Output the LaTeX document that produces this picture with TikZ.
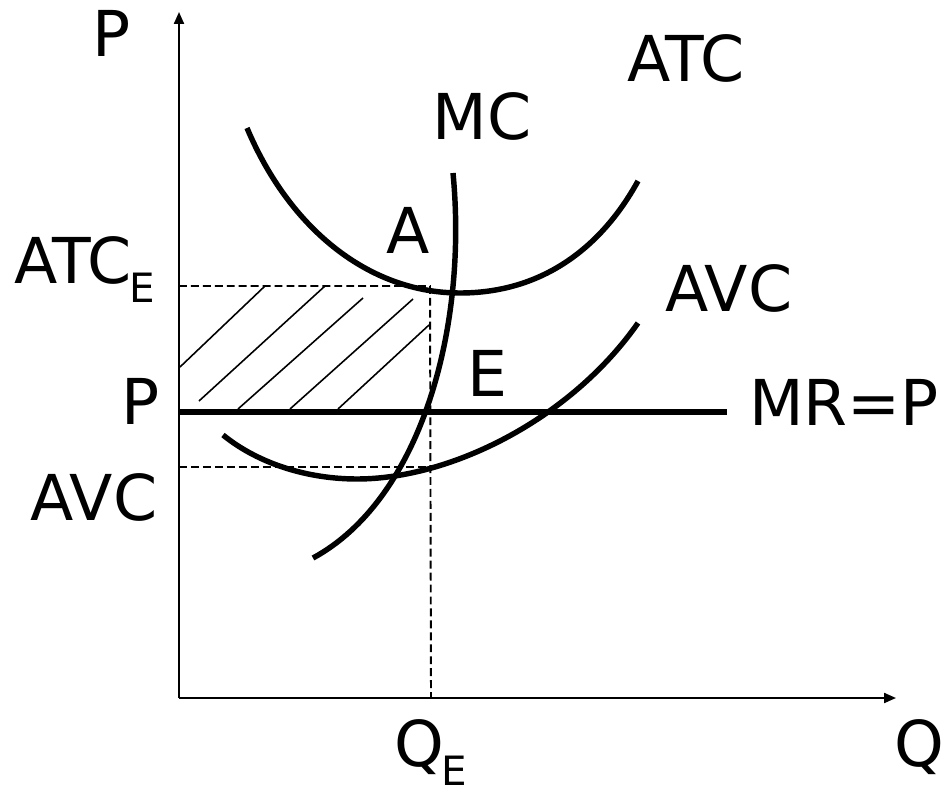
\documentclass[tikz,border=0pt]{standalone}
\usepackage{fontspec}
\setmainfont{DejaVu Sans}
\usetikzlibrary{arrows.meta}
\newcommand{\lowE}{\kern-1.5pt\raisebox{-11pt}{\fontsize{23}{28}\selectfont E}}
\tikzset{
  lbl/.style={inner sep=0pt, font=\fontsize{36}{43}\selectfont},
  curve/.style={line width=3.1pt},
  guide/.style={line width=1.1pt, dash pattern=on 4.5pt off 2.3pt},
  hatch/.style={line width=0.9pt},
  axis/.style={line width=1.1pt, -{Triangle[length=6.8pt,width=5.7pt]}}
}
\begin{document}
\begin{tikzpicture}[x=0.02cm,y=-0.02cm]
        \useasboundingbox (0,0) rectangle (947,794);
        \coordinate (o) at (179,698);
        \coordinate (ytop) at (179,12);
        \coordinate (xend) at (896,698);
        \coordinate (atcE) at (179,286);
        \coordinate (cA) at (430,286);
        \coordinate (cQ) at (431,698);
        \coordinate (avcE) at (179,467);
        \coordinate (cV) at (430,467);
        \coordinate (pE) at (179,412);
        \coordinate (mrEnd) at (727,412);
        \draw [hatch] (180,367) -- (265,286);
        \draw [hatch] (199,401) -- (325,286);
        \draw [hatch] (238,409) -- (363,298);
        \draw [hatch] (290,409) -- (413,299);
        \draw [hatch] (338,409) -- (429,325);
        \draw [guide] (atcE) -- (cA) -- (cQ);
        \draw [guide] (avcE) -- (cV);
        \draw [curve] (247,128) .. controls (290,230) and (370,293) .. (460,293)
                .. controls (540,293) and (600,250) .. (638,181);
        \draw [curve] (313,558) .. controls (420,500) and (468,330) .. (453,173);
        \draw [curve] (223,435) .. controls (260,465) and (310,479) .. (357,479)
                .. controls (450,479) and (570,420) .. (638,323);
        \draw [curve] (pE) -- (mrEnd);
        \draw [axis] (o) -- (ytop);
        \draw [axis] (o) -- (xend);
        \node [lbl] (pAxis) at (112,33) {P};
        \node [lbl] (atc) at (686,58) {ATC};
        \node [lbl] (mc) at (482,116) {MC};
        \node [lbl] (ptA) at (408,230) {A};
        \node [lbl] (avc) at (729,288) {AVC};
        \node [lbl] (ptE) at (487,373) {E};
        \node [lbl] (mrp) at (844,402) {MR=P};
        \node [lbl] (pLeft) at (141,401) {P};
        \node [lbl] (avcLeft) at (94,497) {AVC};
        \node [lbl, anchor=base west] (atcLeft) at (14,283) {ATC\lowE};
        \node [lbl, anchor=base west] (qE) at (394,766) {Q\lowE};
        \node [lbl, anchor=base west] (qAxis) at (894,766) {Q};
\end{tikzpicture}
\end{document}
